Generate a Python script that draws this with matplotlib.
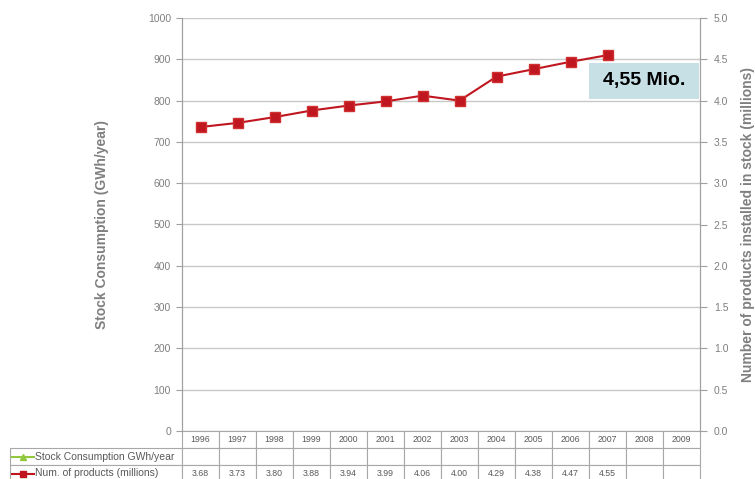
import numpy as np
import matplotlib.pyplot as plt
from matplotlib.patches import Rectangle
from matplotlib.table import Table

plt.rcParams['font.family'] = ['Liberation Sans', 'DejaVu Sans']

## Data
years = ['1996', '1997', '1998', '1999', '2000', '2001', '2002',
         '2003', '2004', '2005', '2006', '2007', '2008', '2009']
products = [3.68, 3.73, 3.80, 3.88, 3.94, 3.99, 4.06, 4.00, 4.29, 4.38, 4.47, 4.55]
consumption = []  # no values shown for this series
left_ticks = np.arange(0, 1001, 100)
right_ticks = np.arange(0, 5.01, 0.5)
callout = '4,55 Mio.'

grey = '#7f7f7f'
grid_col = '#c8c8c8'
red = '#c0161f'
green = '#92c83e'

fig = plt.figure(figsize=(7.55, 4.79), dpi=100)
W, H = 755, 479
x0, x1, ytop, ybot = 182, 700, 18, 431
ax = fig.add_axes([x0 / W, (H - ybot) / H, (x1 - x0) / W, (ybot - ytop) / H])
ax2 = ax.twinx()

## Left axis (GWh/year)
ax.set_xlim(-0.5, len(years) - 0.5)
ax.set_ylim(0, 1000)
ax.set_yticks(left_ticks)
ax.set_yticklabels([str(int(v)) for v in left_ticks])
ax.yaxis.grid(True, color=grid_col, linewidth=1)
ax.set_axisbelow(True)
ax.set_xticks([])
ax.tick_params(axis='y', length=4, color='#a0a0a0', labelsize=7.5, labelcolor=grey, pad=4)
ax.set_ylabel('Stock Consumption (GWh/year)', fontsize=10, fontweight='bold', color=grey, labelpad=28)

## Right axis (millions of products)
ax2.set_ylim(0, 5)
ax2.set_yticks(right_ticks)
ax2.set_yticklabels(['%.1f' % v for v in right_ticks])
ax2.tick_params(axis='y', length=5, color='#a0a0a0', labelsize=7.5, labelcolor=grey, pad=5)
ax2.set_ylabel('Number of products installed in stock (millions)', fontsize=10,
               fontweight='bold', color=grey, labelpad=9)

for a in (ax, ax2):
    for s in ('top', 'bottom'):
        a.spines[s].set_visible(False)
    a.spines['left'].set_color('#a0a0a0')
    a.spines['right'].set_color('#a0a0a0')

ax2.plot(range(len(products)), products, color=red, linewidth=1.5,
         marker='s', markersize=7.5, markerfacecolor=red, markeredgecolor='#d03030')

## Callout box
ax2.add_patch(Rectangle((0.786, 0.804), 0.212, 0.087, transform=ax2.transAxes,
                        facecolor='#c6e0e5', edgecolor='none', zorder=5))
ax2.text(0.892, 0.848, callout, transform=ax2.transAxes, ha='center', va='center',
         fontsize=14, fontweight='bold', color='black', zorder=6)

## Data table under the plot
col_w = 37
label_w = 172
row_h = 17
axw, axh = x1 - x0, ybot - ytop
row1 = [''] * len(years)
row2 = ['%.2f' % v for v in products] + [''] * (len(years) - len(products))
labels = ['        Stock Consumption GWh/year', '        Num. of products (millions)']

# bbox covers the data columns only; the label column hangs to the left
tbl = Table(ax, bbox=[0, -3 * row_h / axh, 1, 3 * row_h / axh])
cw, lw, rh = col_w / axw, label_w / axw, row_h / axh
for c, yr in enumerate(years):
    tbl.add_cell(0, c, width=cw, height=rh, text=yr, loc='center')
for r, (lab, vals) in enumerate(zip(labels, [row1, row2]), start=1):
    tbl.add_cell(r, -1, width=lw, height=rh, text=lab, loc='left')
    for c, v in enumerate(vals):
        tbl.add_cell(r, c, width=cw, height=rh, text=v, loc='center')
tbl.auto_set_font_size(False)
tbl.set_fontsize(6.3)
for (r, c), cell in tbl.get_celld().items():
    cell.set_edgecolor('#a8a8a8')
    cell.set_linewidth(0.8)
    cell.get_text().set_color('#595959')
    if c == -1:
        cell.PAD = 0.01
        cell.get_text().set_fontsize(7.5)
ax.add_table(tbl)

## Legend symbols inside the row label cells
lx = (-label_w + 2) / axw
ax.plot([lx, lx + 22 / axw], [-1.5 * row_h / axh] * 2, transform=ax.transAxes,
        clip_on=False, color=green, linewidth=1.5)
ax.plot([lx + 11 / axw], [-1.5 * row_h / axh], transform=ax.transAxes,
        clip_on=False, color=green, marker='^', markersize=4)
ax.plot([lx, lx + 22 / axw], [-2.5 * row_h / axh] * 2, transform=ax.transAxes,
        clip_on=False, color=red, linewidth=1.5)
ax.plot([lx + 11 / axw], [-2.5 * row_h / axh], transform=ax.transAxes,
        clip_on=False, color=red, marker='s', markersize=5)

fig.savefig('out.png', dpi=100)
